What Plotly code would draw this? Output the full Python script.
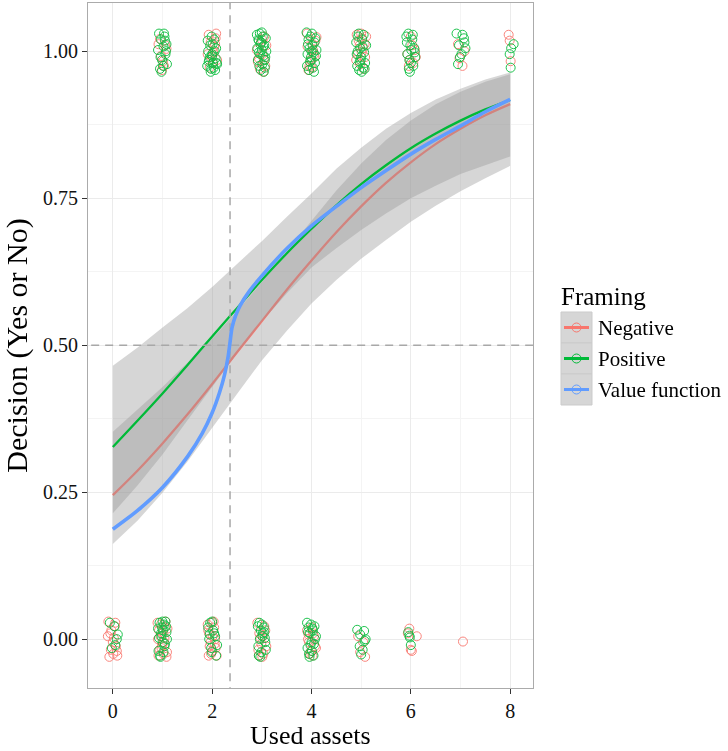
import plotly.graph_objects as go

# ---------------- data ----------------
NEG_COLOR = "#F8766D"
POS_COLOR = "#00BA38"
VAL_COLOR = "#619CFF"

legend_labels = ["Negative", "Positive", "Value function"]
x_ticks = [0, 2, 4, 6, 8]
y_ticks = [0.0, 0.25, 0.5, 0.75, 1.0]
y_tick_text = ["0.00", "0.25", "0.50", "0.75", "1.00"]

ref_x = 2.36      # vertical dashed reference
ref_y = 0.5       # horizontal dashed reference

fit_x = [0, 0.5, 1, 1.5, 2, 2.5, 3, 3.5, 4, 4.5, 5, 5.5, 6, 6.5, 7, 7.5, 8]
neg_fit = [0.245, 0.287, 0.333, 0.382, 0.434, 0.488, 0.541, 0.594, 0.644, 0.692,
           0.736, 0.776, 0.811, 0.842, 0.868, 0.891, 0.910]
neg_hi = [0.353, 0.391, 0.429, 0.470, 0.511, 0.558, 0.607, 0.660, 0.712, 0.763,
          0.809, 0.849, 0.882, 0.910, 0.931, 0.948, 0.961]
neg_lo = [0.162, 0.202, 0.249, 0.302, 0.360, 0.417, 0.474, 0.524, 0.571, 0.611,
          0.647, 0.679, 0.710, 0.737, 0.762, 0.784, 0.805]
pos_fit = [0.327, 0.372, 0.418, 0.466, 0.515, 0.563, 0.611, 0.656, 0.698, 0.738,
           0.774, 0.806, 0.835, 0.860, 0.882, 0.901, 0.917]
pos_hi = [0.465, 0.496, 0.530, 0.563, 0.599, 0.638, 0.677, 0.718, 0.758, 0.800,
          0.836, 0.868, 0.895, 0.918, 0.936, 0.952, 0.964]
pos_lo = [0.214, 0.262, 0.314, 0.372, 0.430, 0.486, 0.540, 0.588, 0.632, 0.665,
          0.696, 0.724, 0.750, 0.771, 0.791, 0.806, 0.821]

val_x = [0, 0.5, 1.0, 1.5, 1.8, 2.0, 2.15, 2.25, 2.32, 2.36, 2.40, 2.47, 2.56,
         2.75, 3.0, 3.5, 4.0, 4.5, 5.0, 5.5, 6.0, 6.5, 7.0, 7.5, 8.0]
val_y = [0.187, 0.219, 0.258, 0.310, 0.350, 0.385, 0.420, 0.450, 0.480, 0.505,
         0.530, 0.550, 0.567, 0.592, 0.618, 0.664, 0.703, 0.736, 0.768, 0.797,
         0.825, 0.850, 0.873, 0.897, 0.918]

# jittered observations (decision = 1, top row)
neg_top_x = [0.92, 0.97, 1.03, 1.08, 0.95, 1.01, 1.06, 0.99,
             1.93, 1.97, 2.02, 2.07, 2.10, 1.95, 2.04, 1.99, 2.08, 1.91, 2.01, 2.06,
             2.92, 2.96, 3.01, 3.05, 3.09, 2.94, 3.03, 2.98, 3.07, 2.90, 3.00, 3.04,
             3.91, 3.96, 4.02, 4.06, 4.10, 3.94, 4.03, 3.98, 4.08, 3.92, 4.00, 4.05,
             4.91, 4.95, 5.00, 5.04, 5.08, 4.93, 5.02, 4.98, 5.07, 4.90, 5.05, 4.97, 5.10, 5.01,
             5.93, 5.98, 6.03, 6.08, 6.10, 5.96, 6.05, 6.00,
             6.95, 7.04, 7.08, 6.98,
             7.97, 8.01, 7.99]
neg_top_y = [1.012, 0.992, 0.975, 1.004, 1.021, 0.983, 1.010, 0.968,
             1.028, 1.015, 0.998, 1.022, 0.985, 0.972, 1.008, 0.990, 1.030, 0.995, 0.980, 1.012,
             0.982, 0.970, 0.995, 1.025, 1.010, 0.988, 0.965, 1.015, 0.975, 1.002, 1.020, 0.985,
             1.030, 0.975, 1.012, 0.990, 1.024, 0.968, 1.002, 0.985, 1.018, 1.008, 0.972, 0.995,
             1.028, 1.018, 1.030, 1.005, 0.990, 0.995, 1.022, 0.978, 1.012, 0.985, 0.970, 1.010, 1.025, 0.998,
             0.995, 0.985, 1.010, 1.002, 0.990, 0.975, 0.980, 1.025,
             1.012, 0.975, 1.000, 0.988,
             1.028, 0.983, 1.018]
pos_top_x = [0.93, 0.97, 1.02, 1.06, 1.09, 0.95, 1.04, 0.99, 1.08, 0.91, 1.01, 1.05, 0.96, 1.03, 0.98, 1.07,
             1.90, 1.94, 1.98, 2.02, 2.06, 2.10, 1.92, 1.96, 2.00, 2.04, 2.08, 1.91, 1.95, 1.99, 2.03, 2.07,
             1.93, 1.97, 2.01, 2.05, 2.09, 2.00,
             2.90, 2.93, 2.96, 2.99, 3.02, 3.05, 3.08, 2.91, 2.94, 2.97, 3.00, 3.03, 3.06, 3.09, 2.92, 2.95,
             2.98, 3.01, 3.04, 3.07, 2.94, 3.00, 3.06, 2.97, 3.03,
             3.90, 3.94, 3.98, 4.02, 4.06, 4.10, 3.92, 3.96, 4.00, 4.04, 4.08, 3.91, 3.95, 3.99, 4.03, 4.07,
             3.93, 3.97, 4.01, 4.05, 4.09, 4.00,
             4.90, 4.94, 4.98, 5.02, 5.06, 5.10, 4.92, 4.96, 5.00, 5.04, 5.08, 4.91, 4.95, 4.99, 5.03, 5.07,
             4.93, 5.05, 4.97, 5.01,
             5.91, 5.95, 5.99, 6.03, 6.07, 5.93, 5.97, 6.01, 6.05, 6.09, 5.92, 5.96, 6.00, 6.04, 6.08, 5.98,
             6.92, 6.97, 7.02, 7.07, 7.10, 6.95, 7.04, 6.99, 7.08,
             8.02, 8.07, 7.99, 8.01]
pos_top_y = [1.030, 1.020, 1.008, 0.995, 0.978, 0.970, 1.025, 0.985, 1.012, 1.002, 0.975, 1.018, 0.990, 1.030, 0.965, 1.000,
             0.975, 0.985, 0.970, 0.980, 0.968, 0.978, 1.000, 1.010, 0.995, 1.020, 1.005, 1.018, 0.990, 1.025, 0.972, 0.988,
             0.982, 0.965, 1.012, 1.000, 0.980, 0.992,
             1.028, 1.020, 1.030, 1.015, 1.025, 1.010, 1.022, 1.005, 0.998, 1.012, 1.002, 0.992, 0.985, 1.000, 0.985, 0.975,
             0.968, 0.978, 0.965, 0.990, 1.018, 1.032, 0.972, 0.995, 1.008,
             1.032, 1.020, 1.025, 1.010, 1.015, 1.002, 0.995, 1.005, 0.985, 0.998, 1.022, 0.975, 0.968, 0.990, 0.972, 0.980,
             1.012, 0.982, 1.030, 0.965, 0.992, 1.000,
             1.015, 1.025, 1.005, 1.020, 0.998, 1.010, 0.975, 0.968, 0.990, 0.972, 0.980, 0.995, 1.030, 0.985, 1.008, 0.970,
             1.000, 1.028, 0.982, 0.965,
             1.025, 1.030, 1.010, 1.020, 1.005, 0.995, 0.985, 1.002, 0.975, 0.990, 1.015, 0.970, 0.980, 1.028, 0.998, 0.965,
             1.030, 1.010, 0.995, 1.022, 1.005, 0.978, 1.028, 0.990, 1.015,
             1.005, 1.012, 0.995, 0.972]

# jittered observations (decision = 0, bottom row)
neg_bot_x = [-0.09, -0.05, 0.00, 0.04, 0.08, -0.07, 0.02, -0.03, 0.06, -0.10, 0.01, 0.05, -0.04, 0.09,
             0.90, 0.93, 0.96, 0.99, 1.02, 1.05, 1.08, 0.91, 0.94, 0.97, 1.00, 1.03, 1.06, 1.09, 0.92, 0.98, 1.04, 1.10,
             1.91, 1.94, 1.97, 2.00, 2.03, 2.06, 2.09, 1.92, 1.95, 1.98, 2.01, 2.04, 2.07, 1.93, 2.00, 2.05,
             2.91, 2.95, 2.99, 3.03, 3.07, 2.93, 2.97, 3.01, 3.05, 3.09, 2.94, 3.02,
             3.91, 3.95, 3.99, 4.03, 4.07, 3.93, 3.97, 4.01, 4.05, 4.09, 3.94, 4.02,
             4.94, 5.04, 5.08, 4.98,
             5.97, 6.00, 6.12, 5.94, 6.02,
             7.05]
neg_bot_y = [0.030, 0.010, -0.005, 0.022, -0.020, -0.030, 0.002, 0.015, -0.012, 0.005, -0.025, 0.028, -0.018, -0.028,
             0.028, 0.015, 0.005, -0.010, -0.025, 0.020, -0.030, 0.000, -0.018, 0.025, 0.010, -0.005, 0.030, -0.022,
             -0.028, -0.015, 0.002, 0.018,
             0.025, 0.010, -0.005, -0.020, 0.030, 0.000, -0.028, 0.015, -0.012, -0.025, 0.005, 0.020, -0.015, -0.028,
             0.028, -0.008,
             0.028, 0.010, -0.008, -0.025, 0.015, -0.018, 0.002, -0.030, 0.022, -0.012, -0.028, 0.005,
             0.015, -0.005, -0.020, 0.010, -0.012, 0.000, -0.025, 0.020, 0.005, -0.015, 0.008, -0.028,
             0.005, -0.005, -0.030, -0.022,
             0.018, -0.018, 0.005, 0.010, -0.020,
             -0.004]
pos_bot_x = [-0.06, 0.03, 0.08, -0.02, 0.05, 0.10,
             0.91, 0.94, 0.97, 1.00, 1.03, 1.06, 1.09, 0.92, 0.95, 0.98, 1.01, 1.04, 1.07, 0.93, 0.96, 0.99,
             1.02, 1.05, 1.08, 1.00,
             1.92, 1.96, 2.00, 2.04, 2.08, 1.94, 1.98, 2.02, 2.06, 1.99, 2.10, 1.95,
             2.92, 2.95, 2.98, 3.01, 3.04, 3.07, 2.93, 2.96, 2.99, 3.02, 3.05, 3.08, 2.94, 3.00, 3.06, 2.97,
             3.91, 3.94, 3.97, 4.00, 4.03, 4.06, 4.09, 3.92, 3.95, 3.98, 4.01, 4.04, 4.07, 3.93, 3.99, 4.05,
             3.96, 4.02,
             4.92, 4.98, 5.06, 5.09, 4.97, 5.03, 5.00, 5.07,
             5.95, 5.98, 6.00, 5.97]
pos_bot_y = [0.028, 0.022, 0.000, -0.015, -0.010, 0.008,
             0.018, 0.028, 0.010, -0.005, 0.025, 0.030, 0.000, -0.020, -0.028, 0.005, 0.015, -0.012, 0.022, 0.002,
             -0.030, 0.020, -0.022, -0.008, 0.012, 0.030,
             0.020, 0.028, 0.030, 0.010, -0.028, 0.000, -0.015, 0.015, 0.005, -0.022, -0.010, 0.008,
             0.022, 0.028, 0.015, 0.005, 0.020, -0.005, -0.012, 0.000, -0.022, 0.010, 0.012, -0.018, -0.028, 0.025,
             0.002, -0.030,
             0.028, 0.020, 0.010, -0.005, 0.015, 0.022, 0.005, -0.015, -0.025, -0.010, -0.020, -0.028, 0.000, 0.012,
             0.025, -0.008, -0.030, 0.018,
             0.016, 0.008, 0.014, 0.000, -0.012, -0.018, -0.026, -0.003,
             0.012, 0.003, -0.010, 0.006]

# ---------------- layout geometry ----------------
W, H = 728, 751
PL, PR, PT, PB = 88, 533, 3, 688          # panel box in pixels
X_RANGE = [-0.5, 8.46]
Y_RANGE = [-0.083, 1.082]
FONT = "Liberation Serif"
RIBBON = "rgba(153,153,153,0.4)"


def px(xp):
    return (xp - PL) / (PR - PL)


def py(yp):
    return (PB - yp) / (PB - PT)


fig = go.Figure()

# points
for xs, ys, col in [(neg_top_x + neg_bot_x, neg_top_y + neg_bot_y, NEG_COLOR),
                    (pos_top_x + pos_bot_x, pos_top_y + pos_bot_y, POS_COLOR)]:
    fig.add_trace(go.Scatter(x=xs, y=ys, mode="markers", showlegend=False,
                             marker=dict(symbol="circle-open", size=9, color=col,
                                         line=dict(width=1, color=col)),
                             opacity=0.9, hoverinfo="skip"))

# smooths: ribbon then line, per group
for lo, hi, fit, col, w in [(neg_lo, neg_hi, neg_fit, NEG_COLOR, 2.3),
                            (pos_lo, pos_hi, pos_fit, POS_COLOR, 2.3)]:
    fig.add_trace(go.Scatter(x=fit_x + fit_x[::-1], y=hi + lo[::-1], mode="lines",
                             fill="toself", fillcolor=RIBBON, line=dict(width=0),
                             showlegend=False, hoverinfo="skip"))
    fig.add_trace(go.Scatter(x=fit_x, y=fit, mode="lines", showlegend=False,
                             line=dict(color=col, width=w, shape="spline"), hoverinfo="skip"))

# dashed reference lines
fig.add_trace(go.Scatter(x=[ref_x, ref_x], y=[-1, 2], mode="lines", showlegend=False,
                         line=dict(color="#A8A8A8", width=1.5, dash="8px,6px"), hoverinfo="skip"))
fig.add_trace(go.Scatter(x=[-1, 9], y=[ref_y, ref_y], mode="lines", showlegend=False,
                         line=dict(color="#A8A8A8", width=1.5, dash="8px,6px"), hoverinfo="skip"))

# value function
fig.add_trace(go.Scatter(x=val_x, y=val_y, mode="lines", showlegend=False,
                         line=dict(color=VAL_COLOR, width=3.6, shape="spline", smoothing=0.8),
                         hoverinfo="skip"))

# ---------------- custom legend ----------------
shapes = []
annotations = []
annotations.append(dict(text="Framing", xref="paper", yref="paper", x=px(559), y=py(296),
                        xanchor="left", yanchor="middle", showarrow=False,
                        font=dict(family=FONT, size=25, color="#000000")))
key_top = 312
key_h = 31
for i, (lab, col) in enumerate(zip(legend_labels, [NEG_COLOR, POS_COLOR, VAL_COLOR])):
    t = key_top + i * key_h
    b = t + key_h
    cy = (t + b) / 2
    shapes.append(dict(type="rect", xref="paper", yref="paper", x0=px(561), x1=px(592),
                       y0=py(b), y1=py(t), fillcolor="#D6D6D6", line=dict(color="#CBCBCB", width=1)))
    shapes.append(dict(type="line", xref="paper", yref="paper", x0=px(564), x1=px(589),
                       y0=py(cy), y1=py(cy), line=dict(color=col, width=3)))
    shapes.append(dict(type="circle", xref="paper", yref="paper", x0=px(572), x1=px(581),
                       y0=py(cy + 4.5), y1=py(cy - 4.5), line=dict(color=col, width=1)))
    annotations.append(dict(text=lab, xref="paper", yref="paper", x=px(596), y=py(cy),
                            xanchor="left", yanchor="middle", showarrow=False,
                            font=dict(family=FONT, size=21, color="#000000")))

# x-axis title as a positioned text (keeps clear of the tick labels)
annotations.append(dict(text="Used assets", xref="paper", yref="paper", x=0.5, y=py(735),
                        xanchor="center", yanchor="middle", showarrow=False,
                        font=dict(family=FONT, size=26, color="#000000")))

axis_common = dict(showline=True, mirror=True, linecolor="#ABABAB", linewidth=1,
                   ticks="outside", ticklen=5, tickwidth=1, tickcolor="#333333",
                   showgrid=True, gridcolor="#EBEBEB", gridwidth=1, zeroline=False,
                   tickfont=dict(family=FONT, size=20, color="#111111"))

fig.update_layout(
    width=W, height=H,
    margin=dict(l=PL, r=W - PR, t=PT, b=H - PB),
    paper_bgcolor="white", plot_bgcolor="white",
    shapes=shapes, annotations=annotations,
    xaxis=dict(range=X_RANGE, tickvals=x_ticks, ticktext=[str(v) for v in x_ticks],
               minor=dict(dtick=1, tick0=0, showgrid=True, gridcolor="#F4F4F4", ticks=""),
               **axis_common),
    yaxis=dict(range=Y_RANGE, tickvals=y_ticks, ticktext=y_tick_text,
               title=dict(text="Decision (Yes or No)", font=dict(family=FONT, size=30, color="#000000"), standoff=6),
               minor=dict(dtick=0.125, tick0=0, showgrid=True, gridcolor="#F4F4F4", ticks=""),
               **axis_common),
)

fig.write_html("out.html")
